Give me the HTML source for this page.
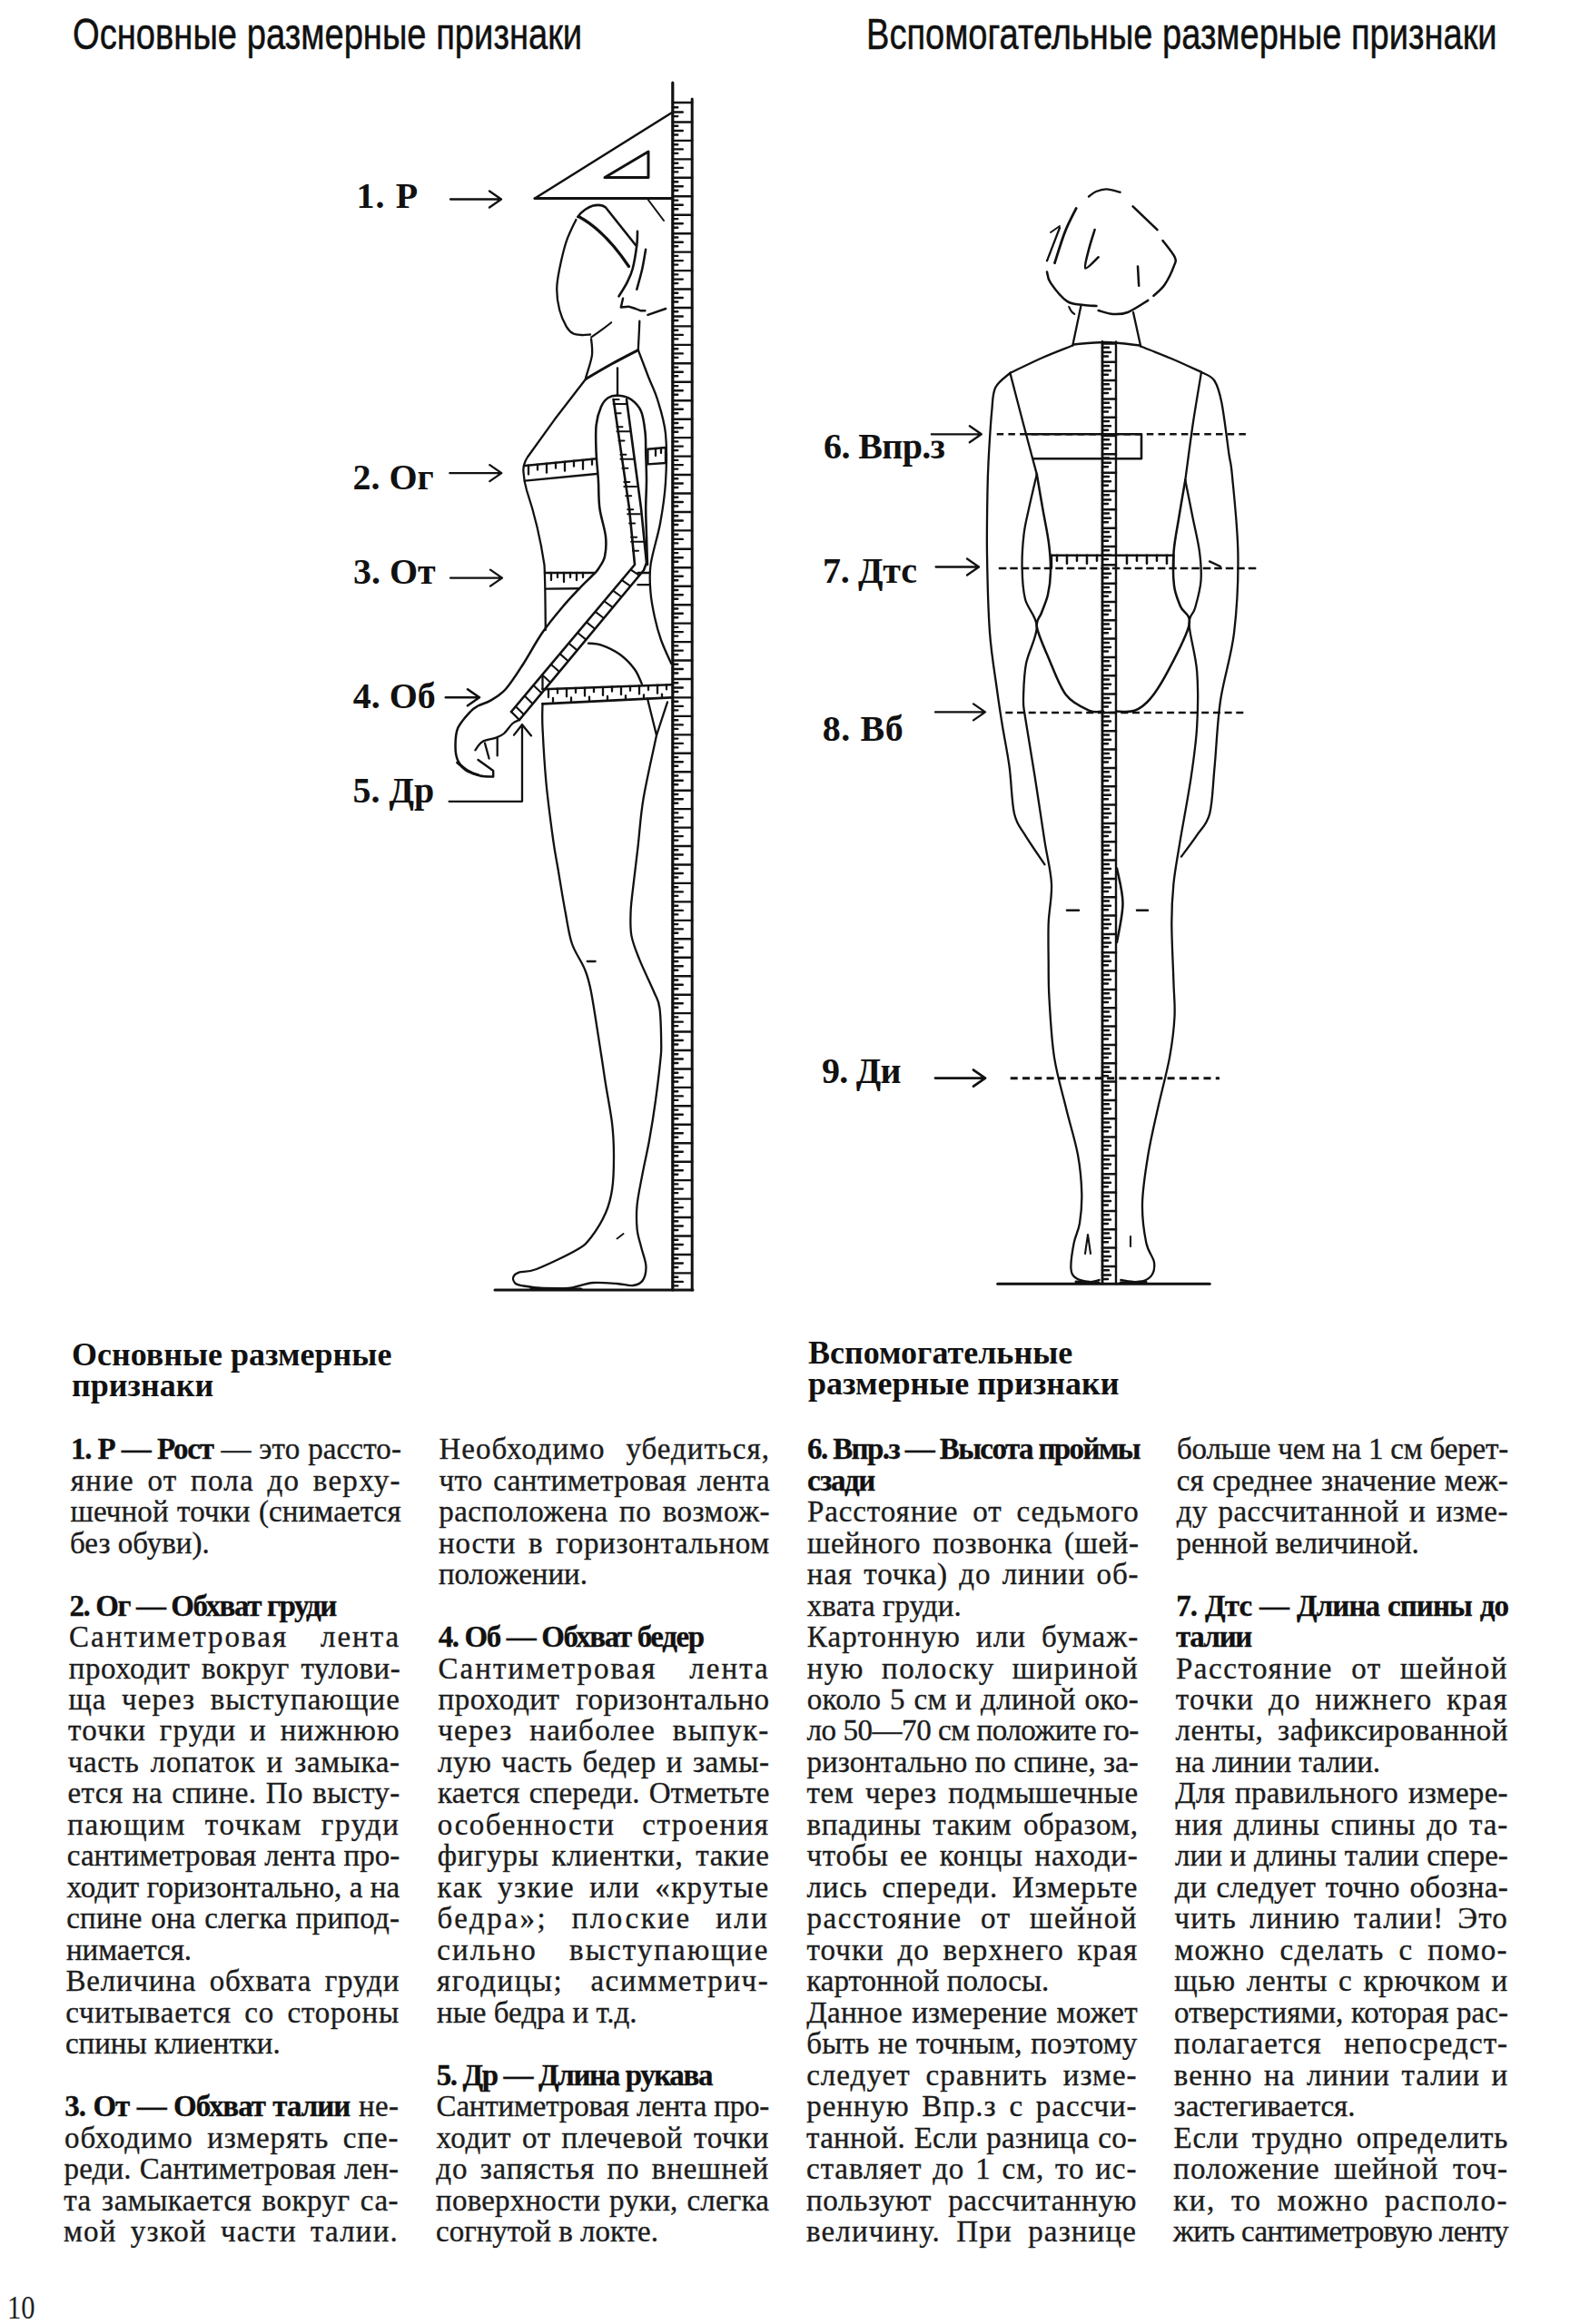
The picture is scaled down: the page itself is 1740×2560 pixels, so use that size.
<!DOCTYPE html>
<html><head><meta charset="utf-8">
<style>
html,body{margin:0;padding:0;background:#fff;}
body{width:1740px;height:2560px;position:relative;overflow:hidden;color:#1a1a1a;}
.h{position:absolute;font-family:"Liberation Sans",sans-serif;font-size:48px;line-height:48px;white-space:nowrap;transform-origin:0 0;color:#111;-webkit-text-stroke:0.5px #111;}
.sh{position:absolute;font-family:"Liberation Serif",serif;font-weight:bold;font-size:36px;line-height:34px;white-space:nowrap;letter-spacing:0px;color:#111;}
.ln{position:absolute;height:34.48px;white-space:nowrap;font-family:"Liberation Serif",serif;font-size:33px;line-height:34.48px;color:#1c1c1c;-webkit-text-stroke:0.35px #1c1c1c;}

.ln b{letter-spacing:calc(var(--ls,0px) - 1.4px);color:#111;}
.pn{position:absolute;left:8px;top:2524px;font-family:"Liberation Serif",serif;font-size:36px;line-height:36px;color:#222;transform:scaleX(0.85);transform-origin:0 0;}
svg{position:absolute;left:0;top:0;}
.lab{position:absolute;font-family:"Liberation Serif",serif;font-weight:bold;font-size:40px;line-height:40px;white-space:nowrap;color:#111;}
</style></head><body>
<div class="h" style="left:79.5px;top:13.9px;transform:scaleX(0.795)">Основные размерные признаки</div>
<div class="h" style="left:953.5px;top:13.9px;transform:scaleX(0.793)">Вспомогательные размерные признаки</div>
<div class="sh" style="left:79px;top:1475px">Основные размерные<br>признаки</div>
<div class="sh" style="left:890px;top:1473px">Вспомогательные<br>размерные признаки</div>
<div class="ln" style="left:78.0px;top:1579.1px;width:364.0px"><span style="word-spacing:0.38px;letter-spacing:0.14px;--ls:0.14px"><b>1. Р — Рост</b> — это рассто-</span></div>
<div class="ln" style="left:77.7px;top:1613.6px;width:364.2px"><span style="word-spacing:4.82px;letter-spacing:1.31px;--ls:1.31px">яние от пола до верху-</span></div>
<div class="ln" style="left:77.4px;top:1648.1px;width:364.4px"><span style="word-spacing:0.95px;letter-spacing:0.12px;--ls:0.12px">шечной точки (снимается</span></div>
<div class="ln" style="left:77.0px;top:1682.6px;width:364.6px"><span>без обуви).</span></div>
<div class="ln" style="left:76.4px;top:1751.5px;width:365.0px"><span><b>2. Ог — Обхват груди</b></span></div>
<div class="ln" style="left:76.1px;top:1786.0px;width:365.2px"><span style="word-spacing:25.59px;letter-spacing:2.02px;--ls:2.02px">Сантиметровая лента</span></div>
<div class="ln" style="left:75.8px;top:1820.5px;width:365.4px"><span style="word-spacing:3.83px;letter-spacing:0.50px;--ls:0.50px">проходит вокруг тулови-</span></div>
<div class="ln" style="left:75.4px;top:1855.0px;width:365.6px"><span style="word-spacing:7.13px;letter-spacing:1.07px;--ls:1.07px">ща через выступающие</span></div>
<div class="ln" style="left:75.1px;top:1889.4px;width:365.8px"><span style="word-spacing:5.32px;letter-spacing:1.20px;--ls:1.20px">точки груди и нижнюю</span></div>
<div class="ln" style="left:74.8px;top:1923.9px;width:366.0px"><span style="word-spacing:3.38px;letter-spacing:0.66px;--ls:0.66px">часть лопаток и замыка-</span></div>
<div class="ln" style="left:74.5px;top:1958.4px;width:366.2px"><span style="word-spacing:1.69px;letter-spacing:0.42px;--ls:0.42px">ется на спине. По высту-</span></div>
<div class="ln" style="left:74.2px;top:1992.9px;width:366.4px"><span style="word-spacing:10.64px;letter-spacing:1.68px;--ls:1.68px">пающим точкам груди</span></div>
<div class="ln" style="left:73.8px;top:2027.4px;width:366.6px"><span style="word-spacing:0.49px;letter-spacing:0.06px;--ls:0.06px">сантиметровая лента про-</span></div>
<div class="ln" style="left:73.5px;top:2061.8px;width:366.8px"><span style="word-spacing:0.18px;letter-spacing:0.03px;--ls:0.03px">ходит горизонтально, а на</span></div>
<div class="ln" style="left:73.2px;top:2096.3px;width:367.0px"><span style="word-spacing:1.18px;letter-spacing:0.22px;--ls:0.22px">спине она слегка припод-</span></div>
<div class="ln" style="left:72.9px;top:2130.8px;width:367.2px"><span>нимается.</span></div>
<div class="ln" style="left:72.6px;top:2165.3px;width:367.4px"><span style="word-spacing:5.63px;letter-spacing:0.77px;--ls:0.77px">Величина обхвата груди</span></div>
<div class="ln" style="left:72.2px;top:2199.8px;width:367.6px"><span style="word-spacing:5.61px;letter-spacing:0.77px;--ls:0.77px">считывается со стороны</span></div>
<div class="ln" style="left:71.9px;top:2234.2px;width:367.8px"><span>спины клиентки.</span></div>
<div class="ln" style="left:71.3px;top:2303.2px;width:368.2px"><span style="word-spacing:1.20px;letter-spacing:0.37px;--ls:0.37px"><b>3. От — Обхват талии</b> не-</span></div>
<div class="ln" style="left:71.0px;top:2337.7px;width:368.4px"><span style="word-spacing:6.48px;letter-spacing:0.88px;--ls:0.88px">обходимо измерять спе-</span></div>
<div class="ln" style="left:70.6px;top:2372.2px;width:368.6px"><span style="word-spacing:0.84px;letter-spacing:0.10px;--ls:0.10px">реди. Сантиметровая лен-</span></div>
<div class="ln" style="left:70.3px;top:2406.6px;width:368.8px"><span style="word-spacing:2.62px;letter-spacing:0.49px;--ls:0.49px">та замыкается вокруг са-</span></div>
<div class="ln" style="left:70.0px;top:2441.1px;width:369.0px"><span style="word-spacing:5.78px;letter-spacing:1.18px;--ls:1.18px">мой узкой части талии.</span></div>
<div class="ln" style="left:483.5px;top:1579.1px;width:364.5px"><span style="word-spacing:13.79px;letter-spacing:0.98px;--ls:0.98px">Необходимо убедиться,</span></div>
<div class="ln" style="left:483.4px;top:1613.6px;width:364.6px"><span style="word-spacing:3.00px;letter-spacing:0.39px;--ls:0.39px">что сантиметровая лента</span></div>
<div class="ln" style="left:483.2px;top:1648.1px;width:364.7px"><span style="word-spacing:3.66px;letter-spacing:0.50px;--ls:0.50px">расположена по возмож-</span></div>
<div class="ln" style="left:483.1px;top:1682.6px;width:364.8px"><span style="word-spacing:4.99px;letter-spacing:0.68px;--ls:0.68px">ности в горизонтальном</span></div>
<div class="ln" style="left:482.9px;top:1717.0px;width:364.9px"><span>положении.</span></div>
<div class="ln" style="left:482.7px;top:1786.0px;width:365.1px"><span><b>4. Об — Обхват бедер</b></span></div>
<div class="ln" style="left:482.5px;top:1820.5px;width:365.2px"><span style="word-spacing:25.59px;letter-spacing:2.02px;--ls:2.02px">Сантиметровая лента</span></div>
<div class="ln" style="left:482.4px;top:1855.0px;width:365.3px"><span style="word-spacing:8.69px;letter-spacing:0.59px;--ls:0.59px">проходит горизонтально</span></div>
<div class="ln" style="left:482.2px;top:1889.4px;width:365.4px"><span style="word-spacing:9.11px;letter-spacing:1.30px;--ls:1.30px">через наиболее выпук-</span></div>
<div class="ln" style="left:482.1px;top:1923.9px;width:365.5px"><span style="word-spacing:2.16px;letter-spacing:0.56px;--ls:0.56px">лую часть бедер и замы-</span></div>
<div class="ln" style="left:482.0px;top:1958.4px;width:365.6px"><span style="word-spacing:1.64px;letter-spacing:0.20px;--ls:0.20px">кается спереди. Отметьте</span></div>
<div class="ln" style="left:481.8px;top:1992.9px;width:365.7px"><span style="word-spacing:20.23px;letter-spacing:1.52px;--ls:1.52px">особенности строения</span></div>
<div class="ln" style="left:481.7px;top:2027.4px;width:365.8px"><span style="word-spacing:4.98px;letter-spacing:0.68px;--ls:0.68px">фигуры клиентки, такие</span></div>
<div class="ln" style="left:481.5px;top:2061.8px;width:365.9px"><span style="word-spacing:6.52px;letter-spacing:1.40px;--ls:1.40px">как узкие или «крутые</span></div>
<div class="ln" style="left:481.4px;top:2096.3px;width:366.0px"><span style="word-spacing:15.82px;letter-spacing:2.50px;--ls:2.50px">бедра»; плоские или</span></div>
<div class="ln" style="left:481.3px;top:2130.8px;width:366.1px"><span style="word-spacing:24.92px;letter-spacing:2.08px;--ls:2.08px">сильно выступающие</span></div>
<div class="ln" style="left:481.1px;top:2165.3px;width:366.2px"><span style="word-spacing:20.44px;letter-spacing:1.53px;--ls:1.53px">ягодицы; асимметрич-</span></div>
<div class="ln" style="left:481.0px;top:2199.8px;width:366.3px"><span>ные бедра и т.д.</span></div>
<div class="ln" style="left:480.7px;top:2268.7px;width:366.5px"><span><b>5. Др — Длина рукава</b></span></div>
<div class="ln" style="left:480.6px;top:2303.2px;width:366.6px"><span style="word-spacing:0.00px;letter-spacing:-0.19px;--ls:-0.19px">Сантиметровая лента про-</span></div>
<div class="ln" style="left:480.4px;top:2337.7px;width:366.7px"><span style="word-spacing:3.09px;letter-spacing:0.60px;--ls:0.60px">ходит от плечевой точки</span></div>
<div class="ln" style="left:480.3px;top:2372.2px;width:366.8px"><span style="word-spacing:4.26px;letter-spacing:0.87px;--ls:0.87px">до запястья по внешней</span></div>
<div class="ln" style="left:480.1px;top:2406.6px;width:366.9px"><span style="word-spacing:1.50px;letter-spacing:0.19px;--ls:0.19px">поверхности руки, слегка</span></div>
<div class="ln" style="left:480.0px;top:2441.1px;width:367.0px"><span>согнутой в локте.</span></div>
<div class="ln" style="left:889.0px;top:1579.1px;width:366.0px"><span style="word-spacing:0.00px;letter-spacing:-0.20px;--ls:-0.20px"><b>6. Впр.з — Высота проймы</b></span></div>
<div class="ln" style="left:889.0px;top:1613.6px;width:365.9px"><span><b>сзади</b></span></div>
<div class="ln" style="left:888.9px;top:1648.1px;width:365.8px"><span style="word-spacing:6.77px;letter-spacing:0.92px;--ls:0.92px">Расстояние от седьмого</span></div>
<div class="ln" style="left:888.9px;top:1682.6px;width:365.8px"><span style="word-spacing:4.31px;letter-spacing:0.59px;--ls:0.59px">шейного позвонка (шей-</span></div>
<div class="ln" style="left:888.8px;top:1717.0px;width:365.7px"><span style="word-spacing:3.31px;letter-spacing:0.86px;--ls:0.86px">ная точка) до линии об-</span></div>
<div class="ln" style="left:888.8px;top:1751.5px;width:365.6px"><span>хвата груди.</span></div>
<div class="ln" style="left:888.8px;top:1786.0px;width:365.5px"><span style="word-spacing:7.46px;letter-spacing:1.12px;--ls:1.12px">Картонную или бумаж-</span></div>
<div class="ln" style="left:888.7px;top:1820.5px;width:365.4px"><span style="word-spacing:9.37px;letter-spacing:1.48px;--ls:1.48px">ную полоску шириной</span></div>
<div class="ln" style="left:888.7px;top:1855.0px;width:365.4px"><span style="word-spacing:1.08px;letter-spacing:0.34px;--ls:0.34px">около 5 см и длиной око-</span></div>
<div class="ln" style="left:888.6px;top:1889.4px;width:365.3px"><span style="word-spacing:0.00px;letter-spacing:-0.45px;--ls:-0.45px">ло 50—70 см положите го-</span></div>
<div class="ln" style="left:888.6px;top:1923.9px;width:365.2px"><span style="word-spacing:0.06px;letter-spacing:0.01px;--ls:0.01px">ризонтально по спине, за-</span></div>
<div class="ln" style="left:888.6px;top:1958.4px;width:365.1px"><span style="word-spacing:3.89px;letter-spacing:0.56px;--ls:0.56px">тем через подмышечные</span></div>
<div class="ln" style="left:888.5px;top:1992.9px;width:365.0px"><span style="word-spacing:4.00px;letter-spacing:0.55px;--ls:0.55px">впадины таким образом,</span></div>
<div class="ln" style="left:888.5px;top:2027.4px;width:365.0px"><span style="word-spacing:3.73px;letter-spacing:0.76px;--ls:0.76px">чтобы ее концы находи-</span></div>
<div class="ln" style="left:888.4px;top:2061.8px;width:364.9px"><span style="word-spacing:6.58px;letter-spacing:0.90px;--ls:0.90px">лись спереди. Измерьте</span></div>
<div class="ln" style="left:888.4px;top:2096.3px;width:364.8px"><span style="word-spacing:10.56px;letter-spacing:1.58px;--ls:1.58px">расстояние от шейной</span></div>
<div class="ln" style="left:888.4px;top:2130.8px;width:364.7px"><span style="word-spacing:5.31px;letter-spacing:1.09px;--ls:1.09px">точки до верхнего края</span></div>
<div class="ln" style="left:888.3px;top:2165.3px;width:364.6px"><span>картонной полосы.</span></div>
<div class="ln" style="left:888.3px;top:2199.8px;width:364.6px"><span style="word-spacing:1.83px;letter-spacing:0.25px;--ls:0.25px">Данное измерение может</span></div>
<div class="ln" style="left:888.2px;top:2234.2px;width:364.5px"><span style="word-spacing:1.04px;letter-spacing:0.20px;--ls:0.20px">быть не точным, поэтому</span></div>
<div class="ln" style="left:888.2px;top:2268.7px;width:364.4px"><span style="word-spacing:7.55px;letter-spacing:1.03px;--ls:1.03px">следует сравнить изме-</span></div>
<div class="ln" style="left:888.2px;top:2303.2px;width:364.3px"><span style="word-spacing:4.64px;letter-spacing:0.95px;--ls:0.95px">ренную Впр.з с рассчи-</span></div>
<div class="ln" style="left:888.1px;top:2337.7px;width:364.2px"><span style="word-spacing:1.25px;letter-spacing:0.23px;--ls:0.23px">танной. Если разница со-</span></div>
<div class="ln" style="left:888.1px;top:2372.2px;width:364.2px"><span style="word-spacing:2.85px;letter-spacing:0.89px;--ls:0.89px">ставляет до 1 см, то ис-</span></div>
<div class="ln" style="left:888.0px;top:2406.6px;width:364.1px"><span style="word-spacing:9.24px;letter-spacing:0.66px;--ls:0.66px">пользуют рассчитанную</span></div>
<div class="ln" style="left:888.0px;top:2441.1px;width:364.0px"><span style="word-spacing:8.03px;letter-spacing:1.15px;--ls:1.15px">величину. При разнице</span></div>
<div class="ln" style="left:1296.0px;top:1579.1px;width:365.0px"><span style="word-spacing:0.00px;letter-spacing:-0.19px;--ls:-0.19px">больше чем на 1 см берет-</span></div>
<div class="ln" style="left:1295.8px;top:1613.6px;width:365.2px"><span style="word-spacing:0.92px;letter-spacing:0.17px;--ls:0.17px">ся среднее значение меж-</span></div>
<div class="ln" style="left:1295.7px;top:1648.1px;width:365.3px"><span style="word-spacing:2.65px;letter-spacing:0.52px;--ls:0.52px">ду рассчитанной и изме-</span></div>
<div class="ln" style="left:1295.5px;top:1682.6px;width:365.5px"><span>ренной величиной.</span></div>
<div class="ln" style="left:1295.2px;top:1751.5px;width:365.8px"><span style="word-spacing:1.49px;letter-spacing:0.49px;--ls:0.49px"><b>7. Дтс — Длина спины до</b></span></div>
<div class="ln" style="left:1295.0px;top:1786.0px;width:366.0px"><span><b>талии</b></span></div>
<div class="ln" style="left:1294.9px;top:1820.5px;width:366.1px"><span style="word-spacing:10.46px;letter-spacing:1.57px;--ls:1.57px">Расстояние от шейной</span></div>
<div class="ln" style="left:1294.7px;top:1855.0px;width:366.3px"><span style="word-spacing:6.17px;letter-spacing:1.32px;--ls:1.32px">точки до нижнего края</span></div>
<div class="ln" style="left:1294.6px;top:1889.4px;width:366.4px"><span style="word-spacing:7.22px;letter-spacing:0.49px;--ls:0.49px">ленты, зафиксированной</span></div>
<div class="ln" style="left:1294.4px;top:1923.9px;width:366.6px"><span>на линии талии.</span></div>
<div class="ln" style="left:1294.2px;top:1958.4px;width:366.8px"><span style="word-spacing:2.25px;letter-spacing:0.29px;--ls:0.29px">Для правильного измере-</span></div>
<div class="ln" style="left:1294.1px;top:1992.9px;width:366.9px"><span style="word-spacing:2.91px;letter-spacing:0.79px;--ls:0.79px">ния длины спины до та-</span></div>
<div class="ln" style="left:1293.9px;top:2027.4px;width:367.1px"><span style="word-spacing:0.32px;letter-spacing:0.08px;--ls:0.08px">лии и длины талии спере-</span></div>
<div class="ln" style="left:1293.8px;top:2061.8px;width:367.2px"><span style="word-spacing:1.90px;letter-spacing:0.36px;--ls:0.36px">ди следует точно обозна-</span></div>
<div class="ln" style="left:1293.6px;top:2096.3px;width:367.4px"><span style="word-spacing:5.33px;letter-spacing:1.14px;--ls:1.14px">чить линию талии! Это</span></div>
<div class="ln" style="left:1293.4px;top:2130.8px;width:367.6px"><span style="word-spacing:6.26px;letter-spacing:1.34px;--ls:1.34px">можно сделать с помо-</span></div>
<div class="ln" style="left:1293.3px;top:2165.3px;width:367.7px"><span style="word-spacing:2.83px;letter-spacing:0.81px;--ls:0.81px">щью ленты с крючком и</span></div>
<div class="ln" style="left:1293.1px;top:2199.8px;width:367.9px"><span style="word-spacing:0.33px;letter-spacing:0.04px;--ls:0.04px">отверстиями, которая рас-</span></div>
<div class="ln" style="left:1293.0px;top:2234.2px;width:368.0px"><span style="word-spacing:15.18px;letter-spacing:1.04px;--ls:1.04px">полагается непосредст-</span></div>
<div class="ln" style="left:1292.8px;top:2268.7px;width:368.2px"><span style="word-spacing:3.47px;letter-spacing:0.95px;--ls:0.95px">венно на линии талии и</span></div>
<div class="ln" style="left:1292.6px;top:2303.2px;width:368.4px"><span>застегивается.</span></div>
<div class="ln" style="left:1292.5px;top:2337.7px;width:368.5px"><span style="word-spacing:5.38px;letter-spacing:0.73px;--ls:0.73px">Если трудно определить</span></div>
<div class="ln" style="left:1292.3px;top:2372.2px;width:368.7px"><span style="word-spacing:6.51px;letter-spacing:0.93px;--ls:0.93px">положение шейной точ-</span></div>
<div class="ln" style="left:1292.2px;top:2406.6px;width:368.8px"><span style="word-spacing:7.29px;letter-spacing:1.56px;--ls:1.56px">ки, то можно располо-</span></div>
<div class="ln" style="left:1292.0px;top:2441.1px;width:369.0px"><span style="word-spacing:0.00px;letter-spacing:-0.63px;--ls:-0.63px">жить сантиметровую ленту</span></div>
<div class="lab" style="left:392.5px;top:196.1px;letter-spacing:1.1px">1. Р</div><div class="lab" style="left:388.5px;top:506.1px;letter-spacing:0px">2. Ог</div><div class="lab" style="left:389px;top:609.5px;letter-spacing:0px">3. От</div><div class="lab" style="left:388.7px;top:746.7px;letter-spacing:0px">4. Об</div><div class="lab" style="left:388.5px;top:850.8px;letter-spacing:0px">5. Др</div><div class="lab" style="left:907px;top:471.5px;letter-spacing:-0.6px">6. Впр.з</div><div class="lab" style="left:906px;top:608.7px;letter-spacing:-0.3px">7. Дтс</div><div class="lab" style="left:905.7px;top:782.5px;letter-spacing:0.6px">8. Вб</div><div class="lab" style="left:905px;top:1160.0px;letter-spacing:-0.75px">9. Ди</div>
<div class="pn">10</div>
<svg width="1740" height="2560" viewBox="0 0 1740 2560" fill="none" stroke="#111" stroke-linecap="round" stroke-linejoin="round">
<path d="M740.8,91.0 L740.8,1421.0" stroke-width="3.20"/>
<path d="M762.2,109.0 L762.2,1421.0" stroke-width="3.00"/>
<path d="M740.8,113 H762.2 M740.8,134.5 H762.2 M740.8,154.9 H762.2 M740.8,175.4 H762.2 M740.8,195.8 H762.2 M740.8,216.3 H762.2 M740.8,236.8 H762.2 M740.8,257.2 H762.2 M740.8,277.6 H762.2 M740.8,298.1 H762.2 M740.8,318.5 H762.2 M740.8,339.0 H762.2 M740.8,359.4 H762.2 M740.8,379.9 H762.2 M740.8,400.3 H762.2 M740.8,420.8 H762.2 M740.8,441.2 H762.2 M740.8,461.7 H762.2 M740.8,482.1 H762.2 M740.8,502.6 H762.2 M740.8,523.0 H762.2 M740.8,543.5 H762.2 M740.8,564.0 H762.2 M740.8,584.4 H762.2 M740.8,604.8 H762.2 M740.8,625.3 H762.2 M740.8,645.8 H762.2 M740.8,666.2 H762.2 M740.8,686.6 H762.2 M740.8,707.1 H762.2 M740.8,727.5 H762.2 M740.8,748.0 H762.2 M740.8,768.4 H762.2 M740.8,788.9 H762.2 M740.8,809.4 H762.2 M740.8,829.8 H762.2 M740.8,850.2 H762.2 M740.8,870.7 H762.2 M740.8,891.1 H762.2 M740.8,911.6 H762.2 M740.8,932.0 H762.2 M740.8,952.5 H762.2 M740.8,972.9 H762.2 M740.8,993.4 H762.2 M740.8,1013.9 H762.2 M740.8,1034.3 H762.2 M740.8,1054.8 H762.2 M740.8,1075.2 H762.2 M740.8,1095.7 H762.2 M740.8,1116.1 H762.2 M740.8,1136.5 H762.2 M740.8,1157.0 H762.2 M740.8,1177.5 H762.2 M740.8,1197.9 H762.2 M740.8,1218.3 H762.2 M740.8,1238.8 H762.2 M740.8,1259.2 H762.2 M740.8,1279.7 H762.2 M740.8,1300.1 H762.2 M740.8,1320.6 H762.2 M740.8,1341.0 H762.2 M740.8,1361.5 H762.2 M740.8,1382.0 H762.2 M740.8,1402.4 H762.2 M740.8,118.3 h5.5 M740.8,123.5 h11 M740.8,128.1 h5.5 M740.8,138.8 h5.5 M740.8,144.0 h11 M740.8,148.5 h5.5 M740.8,159.2 h5.5 M740.8,164.4 h11 M740.8,168.9 h5.5 M740.8,179.7 h5.5 M740.8,184.9 h11 M740.8,189.4 h5.5 M740.8,200.2 h5.5 M740.8,205.3 h11 M740.8,209.8 h5.5 M740.8,220.6 h5.5 M740.8,225.8 h11 M740.8,230.3 h5.5 M740.8,241.1 h5.5 M740.8,246.2 h11 M740.8,250.8 h5.5 M740.8,261.5 h5.5 M740.8,266.7 h11 M740.8,271.2 h5.5 M740.8,281.9 h5.5 M740.8,287.1 h11 M740.8,291.6 h5.5 M740.8,302.4 h5.5 M740.8,307.6 h11 M740.8,312.1 h5.5 M740.8,322.8 h5.5 M740.8,328.0 h11 M740.8,332.5 h5.5 M740.8,343.3 h5.5 M740.8,348.5 h11 M740.8,353.0 h5.5 M740.8,363.8 h5.5 M740.8,368.9 h11 M740.8,373.4 h5.5 M740.8,384.2 h5.5 M740.8,389.4 h11 M740.8,393.9 h5.5 M740.8,404.6 h5.5 M740.8,409.8 h11 M740.8,414.3 h5.5 M740.8,425.1 h5.5 M740.8,430.3 h11 M740.8,434.8 h5.5 M740.8,445.6 h5.5 M740.8,450.8 h11 M740.8,455.2 h5.5 M740.8,466.0 h5.5 M740.8,471.2 h11 M740.8,475.7 h5.5 M740.8,486.4 h5.5 M740.8,491.6 h11 M740.8,496.1 h5.5 M740.8,506.9 h5.5 M740.8,512.1 h11 M740.8,516.6 h5.5 M740.8,527.3 h5.5 M740.8,532.5 h11 M740.8,537.0 h5.5 M740.8,547.8 h5.5 M740.8,553.0 h11 M740.8,557.5 h5.5 M740.8,568.2 h5.5 M740.8,573.5 h11 M740.8,578.0 h5.5 M740.8,588.7 h5.5 M740.8,593.9 h11 M740.8,598.4 h5.5 M740.8,609.1 h5.5 M740.8,614.3 h11 M740.8,618.8 h5.5 M740.8,629.6 h5.5 M740.8,634.8 h11 M740.8,639.3 h5.5 M740.8,650.0 h5.5 M740.8,655.2 h11 M740.8,659.8 h5.5 M740.8,670.5 h5.5 M740.8,675.7 h11 M740.8,680.2 h5.5 M740.8,690.9 h5.5 M740.8,696.1 h11 M740.8,700.6 h5.5 M740.8,711.4 h5.5 M740.8,716.6 h11 M740.8,721.1 h5.5 M740.8,731.8 h5.5 M740.8,737.0 h11 M740.8,741.5 h5.5 M740.8,752.3 h5.5 M740.8,757.5 h11 M740.8,762.0 h5.5 M740.8,772.7 h5.5 M740.8,777.9 h11 M740.8,782.4 h5.5 M740.8,793.2 h5.5 M740.8,798.4 h11 M740.8,802.9 h5.5 M740.8,813.6 h5.5 M740.8,818.9 h11 M740.8,823.4 h5.5 M740.8,834.1 h5.5 M740.8,839.3 h11 M740.8,843.8 h5.5 M740.8,854.5 h5.5 M740.8,859.8 h11 M740.8,864.2 h5.5 M740.8,875.0 h5.5 M740.8,880.2 h11 M740.8,884.7 h5.5 M740.8,895.4 h5.5 M740.8,900.6 h11 M740.8,905.1 h5.5 M740.8,915.9 h5.5 M740.8,921.1 h11 M740.8,925.6 h5.5 M740.8,936.3 h5.5 M740.8,941.5 h11 M740.8,946.0 h5.5 M740.8,956.8 h5.5 M740.8,962.0 h11 M740.8,966.5 h5.5 M740.8,977.2 h5.5 M740.8,982.4 h11 M740.8,986.9 h5.5 M740.8,997.7 h5.5 M740.8,1002.9 h11 M740.8,1007.4 h5.5 M740.8,1018.1 h5.5 M740.8,1023.4 h11 M740.8,1027.8 h5.5 M740.8,1038.6 h5.5 M740.8,1043.8 h11 M740.8,1048.3 h5.5 M740.8,1059.0 h5.5 M740.8,1064.2 h11 M740.8,1068.8 h5.5 M740.8,1079.5 h5.5 M740.8,1084.7 h11 M740.8,1089.2 h5.5 M740.8,1100.0 h5.5 M740.8,1105.2 h11 M740.8,1109.7 h5.5 M740.8,1120.4 h5.5 M740.8,1125.6 h11 M740.8,1130.1 h5.5 M740.8,1140.8 h5.5 M740.8,1146.0 h11 M740.8,1150.5 h5.5 M740.8,1161.3 h5.5 M740.8,1166.5 h11 M740.8,1171.0 h5.5 M740.8,1181.8 h5.5 M740.8,1187.0 h11 M740.8,1191.5 h5.5 M740.8,1202.2 h5.5 M740.8,1207.4 h11 M740.8,1211.9 h5.5 M740.8,1222.6 h5.5 M740.8,1227.8 h11 M740.8,1232.3 h5.5 M740.8,1243.1 h5.5 M740.8,1248.3 h11 M740.8,1252.8 h5.5 M740.8,1263.5 h5.5 M740.8,1268.8 h11 M740.8,1273.2 h5.5 M740.8,1284.0 h5.5 M740.8,1289.2 h11 M740.8,1293.7 h5.5 M740.8,1304.4 h5.5 M740.8,1309.6 h11 M740.8,1314.1 h5.5 M740.8,1324.9 h5.5 M740.8,1330.1 h11 M740.8,1334.6 h5.5 M740.8,1345.3 h5.5 M740.8,1350.5 h11 M740.8,1355.0 h5.5 M740.8,1365.8 h5.5 M740.8,1371.0 h11 M740.8,1375.5 h5.5 M740.8,1386.2 h5.5 M740.8,1391.5 h11 M740.8,1396.0 h5.5 M740.8,1406.7 h5.5 M740.8,1411.9 h11 M740.8,1416.4 h5.5" stroke-width="2.40"/>
<path d="M545.0,1421.0 L763.0,1421.0" stroke-width="3.00"/>
<path d="M589.0,218.5 L740.0,124.0" stroke-width="2.60"/>
<path d="M589.0,218.5 L740.0,218.5" stroke-width="3.00"/>
<path d="M666.0,195.5 L714.0,167.0 L714.0,195.5 L666.0,195.5" stroke-width="3.00"/>
<path d="M713.0,219.0 L731.0,243.0" stroke-width="2.07"/>
<path d="M636.3,239 C640,233 648,228 653.2,226.5 C658,225.5 664,226 667,228.5 L700,270" stroke-width="2.53"/>
<path d="M637.2,238.5 Q666,254 692.5,293.5" stroke-width="3.20"/>
<path d="M702.0,254.9 C701.9,257.4 702.2,263.2 701.3,270.1 C700.4,277.0 698.5,289.2 696.7,296.0 C694.9,302.8 693.1,306.1 690.6,311.1 C688.1,316.2 683.0,323.8 681.5,326.3" stroke-width="2.60"/>
<path d="M711.1,274.7 C710.5,278.2 708.9,288.7 707.3,296.0 C705.7,303.3 702.3,314.9 701.3,318.7" stroke-width="2.53"/>
<path d="M634.4,242.0 C632.6,245.9 626.8,256.6 623.8,265.6 C620.8,274.6 618.0,287.1 616.2,296.0 C614.4,304.9 613.2,311.1 613.2,318.7 C613.2,326.3 614.4,334.6 616.2,341.5 C618.0,348.4 621.3,355.5 623.8,359.8 C626.3,364.1 628.6,366.0 631.4,367.5 C634.2,369.0 637.4,368.8 640.5,369.0 C643.6,369.2 648.4,368.6 650.0,368.5" stroke-width="2.30"/>
<path d="M651.1,371.4 C653.1,370.0 659.6,365.5 663.3,362.8 C667.0,360.1 671.6,356.5 673.2,355.2" stroke-width="2.07"/>
<path d="M686.1,328.6 L683.8,338.5 L692.2,337.7 L699.8,340.0 L705.8,342.3 L710.4,342.3" stroke-width="2.40"/>
<path d="M713.4,346.8 L733.2,340.0" stroke-width="2.40"/>
<path d="M704.3,353.7 C704.2,356.7 703.8,366.6 703.5,371.9 C703.2,377.2 702.9,383.3 702.8,385.6" stroke-width="2.30"/>
<path d="M651.1,373.4 C651.2,376.4 652.9,384.5 651.9,391.6 C650.9,398.7 646.2,411.9 645.1,416.0" stroke-width="2.30"/>
<path d="M645.1,417.5 C649.9,414.7 664.3,406.1 673.9,400.8 C683.5,395.5 698.0,388.1 702.8,385.6" stroke-width="3.00"/>
<path d="M645.1,417.5 L610.6,462.3 L581,503.5 Q575.5,512 576.5,520 Q577,530 580,540 C585,555 594,585 599.5,622.3 C600.5,640 600.6,670 600.8,694" stroke-width="2.30"/>
<path d="M597.5,775.0 C597.5,779.5 596.8,787.2 597.5,801.8 C598.2,816.4 599.6,842.1 601.5,862.5 C603.4,882.9 606.8,907.8 609.0,924.0 C611.2,940.2 612.8,946.7 615.0,960.0 C617.2,973.3 620.0,990.8 622.5,1004.0 C625.0,1017.2 626.3,1028.9 629.9,1039.5 C633.5,1050.1 640.5,1058.9 644.0,1067.8 C647.5,1076.7 648.0,1077.3 651.0,1092.7 C654.0,1108.1 659.1,1143.1 661.8,1160.0 C664.5,1176.9 664.9,1181.2 667.0,1194.3 C669.1,1207.4 672.7,1225.3 674.2,1238.6 C675.7,1251.9 676.0,1262.2 676.0,1274.0 C676.0,1285.8 675.7,1299.2 674.2,1309.5 C672.7,1319.8 670.9,1327.1 667.0,1336.0 C663.1,1344.9 656.4,1355.9 651.1,1362.7 C645.8,1369.5 645.2,1370.9 635.2,1376.8 C625.2,1382.7 601.5,1393.9 590.9,1398.0 C580.3,1402.1 575.7,1400.1 571.4,1401.6 C567.1,1403.1 565.8,1404.9 565.2,1407.0 C564.6,1409.1 565.9,1412.4 567.8,1414.0 C569.7,1415.6 571.4,1415.6 576.7,1416.5 C582.0,1417.4 591.5,1419.0 599.7,1419.4 C607.9,1419.8 617.1,1420.1 626.0,1419.0 C634.9,1417.9 644.1,1413.8 653.0,1413.0 C661.9,1412.2 672.1,1413.5 679.5,1414.0 C686.9,1414.5 692.5,1416.6 697.2,1416.0 C701.9,1415.4 705.4,1414.1 707.8,1410.5 C710.2,1406.9 711.7,1400.7 711.4,1394.5 C711.1,1388.3 707.6,1380.1 706.0,1373.3 C704.4,1366.5 702.3,1361.5 701.6,1353.8 C700.9,1346.1 700.6,1337.5 701.6,1327.2 C702.6,1316.9 705.6,1303.6 707.8,1291.8 C710.0,1280.0 712.6,1269.6 715.0,1256.3 C717.4,1243.0 720.0,1226.8 722.0,1212.0 C724.0,1197.2 726.3,1178.0 727.3,1167.7 C728.3,1157.4 728.4,1159.5 728.2,1150.0 C728.1,1140.5 727.7,1120.0 726.4,1110.4 C725.1,1100.9 723.9,1101.6 720.2,1092.7 C716.5,1083.8 708.4,1067.6 704.3,1057.2 C700.2,1046.8 697.0,1039.5 695.4,1030.6 C693.8,1021.7 694.3,1012.9 694.6,1004.0 C694.9,995.1 695.9,989.3 697.2,977.5 C698.5,965.7 700.6,949.2 702.5,933.0 C704.4,916.8 705.1,900.5 708.5,880.0 C711.9,859.5 720.6,821.7 723.0,810.0" stroke-width="2.30"/>
<path d="M597.5,745.0 L597.5,759.0" stroke-width="2.30"/>
<path d="M585.0,1419.0 L640.0,1420.0" stroke-width="3.00"/>
<path d="M646.7,1059.0 L655.6,1059.0" stroke-width="2.30"/>
<path d="M679.5,1364.4 L686.6,1359.0" stroke-width="1.84"/>
<path d="M702.8,385.6 C704.7,390.5 710.5,405.9 714.0,415.0 C717.5,424.1 720.8,429.5 724.0,440.0 C727.2,450.5 731.5,462.8 733.0,478.0 C734.5,493.2 734.0,514.5 733.0,531.0 C732.0,547.5 729.8,561.5 727.0,576.7 C724.2,591.9 718.2,609.6 716.5,622.3 C714.8,635.0 715.8,643.1 716.5,652.7 C717.2,662.3 719.1,671.3 721.0,680.0 C722.9,688.7 725.0,696.5 728.0,705.0 C731.0,713.5 737.3,726.7 739.2,731.0" stroke-width="2.30"/>
<path d="M648.0,708.6 C650.4,708.9 656.5,708.6 662.3,710.6 C668.0,712.6 676.4,716.4 682.5,720.8 C688.6,725.2 694.7,731.6 698.7,737.0 C702.8,742.4 705.4,750.5 706.8,753.2" stroke-width="2.40"/>
<path d="M713.0,769.4 L723.0,810.0 L735.0,773.4" stroke-width="2.30"/>
<path d="M713.0,622.0 C712.8,616.7 712.3,600.3 712.0,590.0 C711.7,579.7 711.2,570.2 711.2,560.0 C711.2,549.8 712.0,539.2 712.0,529.0 C712.0,518.8 711.5,507.5 711.2,498.7 C711.0,489.9 711.4,483.6 710.5,476.0 C709.6,468.4 708.6,459.0 706.0,453.0 C703.4,447.0 699.1,442.9 695.0,440.0 C690.9,437.1 685.8,436.0 681.6,435.7 C677.4,435.4 673.3,435.9 670.0,438.0 C666.7,440.1 664.2,442.9 662.0,448.0 C659.8,453.1 657.5,459.9 656.6,468.3 C655.7,476.8 656.2,488.6 656.6,498.7 C657.0,508.8 658.3,518.8 658.9,529.0 C659.5,539.2 659.0,549.7 660.4,560.0 C661.8,570.3 666.1,582.2 667.0,591.0 C667.9,599.8 667.3,607.1 666.0,613.0 C664.7,618.9 661.0,623.2 659.0,626.5 C657.0,629.8 657.2,629.0 653.7,632.7 C650.2,636.4 643.3,642.7 637.7,648.6 C632.1,654.5 626.7,660.0 620.0,668.0 C613.3,676.0 605.0,685.7 597.5,696.5 C590.0,707.3 582.0,722.6 575.2,733.0 C568.5,743.4 562.7,752.6 557.0,759.0 C551.3,765.4 545.9,768.3 540.8,771.4 C535.7,774.5 530.3,775.5 526.6,777.5 C522.9,779.5 522.2,779.5 518.5,783.5 C514.8,787.5 507.1,795.4 504.3,801.8 C501.5,808.2 501.5,816.0 501.5,822.0 C501.5,828.0 502.2,833.6 504.3,838.0 C506.4,842.4 510.3,845.7 514.4,848.4 C518.4,851.1 523.8,853.2 528.6,854.4 C533.4,855.6 540.6,855.3 543.0,855.5" stroke-width="2.53"/>
<path d="M680.0,405.3 L680.0,435.7" stroke-width="2.30"/>
<path d="M572.0,793.0 C570.7,793.7 567.2,794.5 564.4,797.0 C561.6,799.5 558.0,805.4 555.0,808.0 C552.0,810.6 550.2,811.2 546.2,812.7 C542.2,814.2 534.8,814.9 531.0,817.2 C527.2,819.5 524.7,824.8 523.4,826.3" stroke-width="2.30"/>
<path d="M534.0,818.7 L538.6,835.5" stroke-width="2.30"/>
<path d="M547.7,812.0 L547.7,832.4" stroke-width="2.30"/>
<path d="M526.5,837.0 L543.2,849.0 L543.2,855.2" stroke-width="2.40"/>
<path d="M503.7,840.0 C505.5,841.5 510.5,846.7 514.3,849.0 C518.1,851.3 524.5,852.9 526.5,853.7" stroke-width="3.00"/>
<path d="M675.6,440.0 L693.0,560.0 L699.0,622.0 L563.0,784.0" stroke-width="2.60"/>
<path d="M690.0,440.0 L706.0,560.0 L712.0,620.0 L709.0,628.0 L572.0,793.0" stroke-width="2.60"/>
<path d="M563.0,784.0 L572.0,793.0" stroke-width="2.40"/>
<path d="M675.6,440.0 L681.6,440.0 M675.6,445.0 L690.0,445.0 M677.6,455.2 L683.6,455.2 M679.5,470.3 L685.5,470.3 M679.5,475.3 L693.7,475.3 M681.5,485.5 L687.5,485.5 M683.4,500.7 L689.4,500.7 M683.4,505.7 L697.3,505.7 M685.4,515.8 L691.4,515.8 M687.3,531.0 L693.3,531.0 M687.3,536.0 L701.0,536.0 M689.2,546.2 L695.2,546.2 M691.2,561.3 L697.2,561.3 M691.2,566.3 L704.7,566.3 M693.1,576.5 L699.1,576.5 M695.1,591.7 L701.1,591.7 M695.1,596.7 L708.3,596.7 M697.0,606.8 L703.0,606.8 M695.1,627.8 L704.1,633.9 M685.3,639.4 L694.3,645.7 M675.5,650.9 L684.5,657.5 M665.8,662.5 L674.8,669.2 M656.0,674.1 L665.0,681.0 M646.2,685.6 L655.2,692.8 M636.4,697.2 L645.4,704.6 M626.6,708.8 L635.6,716.4 M616.8,720.4 L625.8,728.2 M607.0,731.9 L616.0,740.0 M597.2,743.5 L606.2,751.8 M587.5,755.1 L596.5,763.5 M577.7,766.6 L586.7,775.3 M567.9,778.2 L576.9,787.1" stroke-width="2.07"/>
<path d="M578.0,513.0 L657.0,505.3" stroke-width="2.40"/>
<path d="M578.0,529.6 L657.0,522.0" stroke-width="2.40"/>
<path d="M582,512.6 v10 M592,511.6 v6 M602,510.7 v10 M612,509.7 v6 M622,508.7 v10 M632,507.7 v6 M642,506.8 v10 M652,505.8 v6" stroke-width="2.30"/>
<path d="M713.4,494.7 L733.0,493.0 L733.0,510.0 L713.4,511.4 L713.4,494.7" stroke-width="2.40"/>
<path d="M722,494 v8 M728,494 v5" stroke-width="2.30"/>
<path d="M600.0,631.0 L655.0,631.0" stroke-width="2.60"/>
<path d="M601.0,648.6 L638.0,648.2" stroke-width="2.40"/>
<path d="M607,631 v8 M614,631 v5 M621,631 v10 M628,631 v5 M635,631 v8 M642,631 v5" stroke-width="2.30"/>
<path d="M702.4,631.0 L714.8,631.0" stroke-width="2.30"/>
<path d="M702.4,644.2 L714.8,644.2" stroke-width="2.30"/>
<path d="M597.5,759.2 L739.2,754.2" stroke-width="2.60"/>
<path d="M597.5,775.4 L739.2,768.4" stroke-width="2.60"/>
<path d="M604,759.0 v9 M609,773.0 v-4 M614,758.6 v5 M624,758.3 v9 M629,772.3 v-4 M634,757.9 v5 M644,757.6 v9 M649,771.6 v-4 M654,757.2 v5 M664,756.9 v9 M669,770.9 v-4 M674,756.5 v5 M684,756.1 v9 M689,770.1 v-4 M694,755.8 v5 M704,755.4 v9 M709,769.4 v-4 M714,755.1 v5 M724,754.7 v9 M729,768.7 v-4 M734,754.4 v5" stroke-width="2.30"/>
<path d="M496,219.5 H552 M539,210.5 L552,219.5 L539,228.5" stroke-width="2.30"/>
<path d="M495.3,521.1 H552.3 M539.3,512.1 L552.3,521.1 L539.3,530.1" stroke-width="2.30"/>
<path d="M496,636.6 H553 M540,627.6 L553,636.6 L540,645.6" stroke-width="2.30"/>
<path d="M490.8,768.3 H528 M515,759.3 L528,768.3 L515,777.3" stroke-width="2.60"/>
<path d="M494.6,882.8 H575 V798.2 M566,809.6 L575,798.2 L585,810.4" stroke-width="2.30"/>
<path d="M1199.0,216.5 C1200.3,215.6 1203.8,212.3 1207.0,211.0 C1210.2,209.7 1214.1,208.3 1218.5,208.4 C1222.9,208.5 1231.1,211.1 1233.6,211.7" stroke-width="2.40"/>
<path d="M1247.6,227.3 L1274.5,253.1" stroke-width="2.53"/>
<path d="M1280.5,265.0 C1282.7,268.1 1291.7,278.6 1293.7,283.3 C1295.7,288.0 1294.6,288.3 1292.7,293.4 C1290.8,298.5 1286.2,308.3 1282.5,313.7 C1278.8,319.1 1272.4,323.8 1270.4,325.8" stroke-width="2.53"/>
<path d="M1264.3,330.9 C1260.6,333.1 1248.4,341.5 1242.0,344.0 C1235.6,346.5 1231.2,346.3 1225.8,346.0 C1220.4,345.7 1212.3,342.7 1209.6,342.0" stroke-width="2.53"/>
<path d="M1185.2,229.4 C1183.2,233.7 1177.0,244.9 1173.0,255.0 C1169.0,265.1 1163.4,283.9 1161.5,289.7" stroke-width="2.80"/>
<path d="M1167.0,251.0 L1153.0,287.3" stroke-width="2.30"/>
<path d="M1157.0,256.0 L1167.0,249.0" stroke-width="1.84"/>
<path d="M1153.0,299.5 C1153.7,301.5 1153.3,306.2 1157.0,311.6 C1160.7,317.0 1169.1,327.8 1175.2,331.9 C1181.3,336.0 1188.0,335.1 1193.4,336.0 C1198.8,336.9 1205.2,336.8 1207.6,337.0" stroke-width="2.53"/>
<path d="M1205.6,253.0 C1204.5,256.7 1200.7,267.9 1199.0,275.0 C1197.3,282.1 1193.6,294.0 1195.4,295.4 C1197.2,296.8 1207.2,285.3 1209.6,283.3" stroke-width="2.60"/>
<path d="M1253.0,293.4 L1254.2,314.7" stroke-width="2.53"/>
<path d="M1177.2,338.0 C1177.7,338.8 1179.0,341.7 1180.0,343.0 C1181.0,344.3 1182.8,345.5 1183.3,346.0" stroke-width="2.07"/>
<path d="M1190.4,337.0 L1181.3,380.5" stroke-width="2.30"/>
<path d="M1248.0,344.0 L1256.2,381.5" stroke-width="2.30"/>
<path d="M1112.4,410.9 C1118.3,408.1 1136.5,399.1 1148.0,394.0 C1159.5,388.9 1175.8,382.8 1181.3,380.5" stroke-width="2.30"/>
<path d="M1256.2,381.5 C1261.8,383.8 1278.9,390.3 1290.0,395.0 C1301.1,399.7 1317.5,407.4 1323.0,409.9" stroke-width="2.30"/>
<path d="M1112.4,410.9 C1109.7,413.6 1099.6,419.9 1096.2,427.0 C1092.8,434.1 1093.4,441.2 1092.2,453.4 C1091.0,465.6 1089.8,485.6 1089.0,500.0 C1088.2,514.4 1087.8,521.6 1087.5,540.0 C1087.2,558.4 1086.6,584.5 1087.0,610.6 C1087.4,636.7 1088.2,671.8 1090.0,696.7 C1091.8,721.6 1095.7,742.8 1098.0,760.0 C1100.3,777.2 1101.7,785.9 1104.0,800.0 C1106.3,814.1 1109.4,828.6 1111.6,844.6 C1113.8,860.6 1114.1,883.7 1117.0,896.2 C1119.9,908.8 1123.3,910.6 1128.9,919.9 C1134.5,929.2 1146.8,946.8 1150.4,952.2" stroke-width="2.30"/>
<path d="M1112.4,410.9 C1114.8,420.2 1122.1,448.4 1127.0,467.0 C1131.9,485.6 1139.3,513.2 1141.8,522.4" stroke-width="2.30"/>
<path d="M1141.8,522.4 C1142.9,528.7 1146.1,547.8 1148.3,560.4 C1150.5,573.0 1153.5,586.7 1155.0,598.3 C1156.5,609.9 1157.2,620.5 1157.0,630.0 C1156.8,639.5 1155.7,647.5 1154.0,655.0 C1152.3,662.5 1149.0,669.1 1147.0,675.0 C1145.0,680.9 1140.5,682.0 1141.8,690.3 C1143.1,698.6 1149.3,712.2 1154.7,724.7 C1160.1,737.2 1166.5,755.9 1174.0,765.6 C1181.5,775.3 1193.1,779.8 1199.9,782.8 C1206.7,785.8 1212.5,783.4 1215.0,783.5" stroke-width="2.53"/>
<path d="M1229.0,783.5 C1232.4,783.4 1243.1,785.1 1249.4,782.8 C1255.7,780.5 1260.5,777.1 1266.6,769.9 C1272.7,762.7 1278.8,753.4 1286.0,739.7 C1293.2,726.1 1307.3,700.0 1309.6,688.0 C1311.9,676.0 1302.8,675.2 1300.0,668.0 C1297.2,660.8 1294.2,655.0 1293.0,645.0 C1291.8,635.0 1291.7,620.3 1292.6,607.8 C1293.5,595.3 1296.2,583.1 1298.3,570.0 C1300.4,556.9 1304.1,535.8 1305.3,528.9" stroke-width="2.53"/>
<path d="M1141.8,522.4 C1140.3,528.7 1135.4,549.3 1133.0,560.4 C1130.6,571.5 1128.7,578.0 1127.5,588.8 C1126.3,599.6 1125.3,613.1 1125.6,625.0 C1125.8,636.9 1126.3,649.1 1129.0,660.0 C1131.7,670.9 1141.6,678.5 1141.8,690.3 C1142.0,702.1 1132.5,717.7 1130.0,731.0 C1127.5,744.3 1127.2,760.2 1127.0,770.0 C1126.8,779.8 1126.9,775.8 1129.0,790.0 C1131.1,804.2 1136.0,832.6 1139.6,855.3 C1143.2,878.0 1147.3,906.6 1150.4,926.3 C1153.5,946.0 1157.3,958.6 1158.0,973.7 C1158.7,988.8 1155.2,1002.4 1154.7,1016.7 C1154.2,1031.0 1154.6,1045.9 1154.7,1059.8 C1154.8,1073.7 1154.5,1082.5 1155.5,1100.0 C1156.5,1117.5 1157.9,1144.5 1161.0,1164.6 C1164.1,1184.7 1169.7,1202.6 1174.0,1220.5 C1178.3,1238.4 1184.1,1256.2 1187.0,1272.0 C1189.9,1287.8 1191.0,1302.6 1191.3,1315.2 C1191.6,1327.8 1190.4,1338.5 1189.0,1347.5 C1187.6,1356.5 1184.3,1360.8 1182.7,1369.0 C1181.1,1377.2 1179.1,1390.5 1179.4,1397.0 C1179.8,1403.5 1181.4,1405.2 1184.8,1407.7 C1188.2,1410.2 1195.6,1411.6 1199.9,1412.0 C1204.2,1412.4 1208.8,1410.3 1210.6,1410.0" stroke-width="2.30"/>
<path d="M1323.0,409.9 C1325.4,411.4 1333.5,413.4 1337.2,419.0 C1340.9,424.6 1342.6,429.8 1345.3,443.3 C1348.0,456.8 1351.5,486.4 1353.4,500.0 C1355.4,513.5 1355.3,506.2 1357.0,524.6 C1358.7,543.0 1363.1,581.9 1363.4,610.6 C1363.8,639.3 1362.3,669.8 1359.1,696.7 C1355.9,723.6 1347.6,747.4 1344.0,772.0 C1340.4,796.6 1339.6,823.9 1337.6,844.6 C1335.6,865.3 1335.4,883.7 1332.2,896.2 C1329.0,908.8 1323.4,912.0 1318.2,919.9 C1313.0,927.8 1303.9,939.6 1301.0,943.5" stroke-width="2.30"/>
<path d="M1323.0,409.9 C1321.5,419.1 1317.0,445.2 1314.0,465.0 C1311.0,484.8 1306.8,518.2 1305.3,528.9" stroke-width="2.30"/>
<path d="M1305.3,528.9 C1306.7,535.8 1310.9,556.9 1313.5,570.0 C1316.1,583.1 1319.5,596.1 1321.0,607.8 C1322.5,619.5 1323.3,629.6 1322.5,640.0 C1321.7,650.4 1318.2,662.0 1316.0,670.0 C1313.8,678.0 1309.2,676.4 1309.6,688.0 C1310.0,699.6 1316.8,721.0 1318.2,739.7 C1319.6,758.4 1319.3,780.7 1318.2,800.0 C1317.1,819.3 1315.0,833.5 1311.8,855.3 C1308.6,877.1 1302.1,910.9 1298.9,930.6 C1295.7,950.3 1293.8,959.4 1292.4,973.7 C1291.0,988.1 1290.3,998.8 1290.3,1016.7 C1290.3,1034.6 1291.9,1064.1 1292.4,1081.3 C1292.9,1098.5 1294.2,1106.1 1293.5,1120.0 C1292.8,1133.9 1291.1,1147.8 1288.1,1164.6 C1285.0,1181.3 1279.2,1202.6 1275.2,1220.5 C1271.2,1238.4 1267.3,1254.4 1264.4,1272.0 C1261.5,1289.6 1258.3,1309.8 1258.0,1326.0 C1257.7,1342.2 1260.1,1358.2 1262.3,1369.0 C1264.5,1379.8 1270.1,1384.4 1271.0,1390.5 C1271.9,1396.6 1270.6,1402.0 1267.7,1405.6 C1264.8,1409.2 1259.3,1411.3 1253.7,1412.0 C1248.1,1412.7 1237.5,1410.3 1234.3,1410.0" stroke-width="2.30"/>
<path d="M1175,1002.7 H1188 M1252,1002.7 H1264" stroke-width="2.53"/>
<path d="M1230.0,956.5 C1231.1,962.9 1236.5,981.4 1236.5,995.0 C1236.5,1008.6 1231.1,1030.8 1230.0,1038.0" stroke-width="2.53"/>
<path d="M1195,1381 L1198,1360 L1201,1381 M1245,1362 V1373" stroke-width="2.07"/>
<path d="M1332.0,618.4 L1344.0,624.0" stroke-width="2.30"/>
<path d="M1098.7,1414.2 L1332.2,1414.2" stroke-width="3.00"/>
<path d="M1185.0,1412.0 L1210.0,1413.0" stroke-width="3.00"/>
<path d="M1234.0,1413.0 L1262.0,1412.0" stroke-width="3.00"/>
<path d="M1214.0,376.5 L1214.0,1414.0" stroke-width="2.80"/>
<path d="M1229.0,376.5 L1229.0,1414.0" stroke-width="2.40"/>
<path d="M1182.0,379.5 C1188.0,379.1 1205.8,376.8 1218.0,377.0 C1230.2,377.2 1249.2,379.9 1255.5,380.5" stroke-width="2.53"/>
<path d="M1214,378.4 H1229 M1214,382.7 h7 M1214,387.9 h9 M1214,392.4 h6 M1214,398.7 H1229 M1214,403.0 h7 M1214,408.2 h9 M1214,412.7 h6 M1214,419.0 H1229 M1214,423.3 h7 M1214,428.5 h9 M1214,433.0 h6 M1214,439.4 H1229 M1214,443.7 h7 M1214,448.9 h9 M1214,453.4 h6 M1214,459.7 H1229 M1214,464.0 h7 M1214,469.2 h9 M1214,473.7 h6 M1214,480.0 H1229 M1214,484.3 h7 M1214,489.5 h9 M1214,494.0 h6 M1214,500.3 H1229 M1214,504.6 h7 M1214,509.8 h9 M1214,514.3 h6 M1214,520.7 H1229 M1214,525.0 h7 M1214,530.2 h9 M1214,534.7 h6 M1214,541.0 H1229 M1214,545.3 h7 M1214,550.5 h9 M1214,555.0 h6 M1214,561.3 H1229 M1214,565.6 h7 M1214,570.8 h9 M1214,575.3 h6 M1214,581.7 H1229 M1214,586.0 h7 M1214,591.2 h9 M1214,595.7 h6 M1214,602.0 H1229 M1214,606.3 h7 M1214,611.5 h9 M1214,616.0 h6 M1214,622.3 H1229 M1214,626.6 h7 M1214,631.8 h9 M1214,636.3 h6 M1214,642.7 H1229 M1214,647.0 h7 M1214,652.2 h9 M1214,656.7 h6 M1214,663.0 H1229 M1214,667.3 h7 M1214,672.5 h9 M1214,677.0 h6 M1214,683.3 H1229 M1214,687.6 h7 M1214,692.8 h9 M1214,697.3 h6 M1214,703.6 H1229 M1214,707.9 h7 M1214,713.1 h9 M1214,717.6 h6 M1214,724.0 H1229 M1214,728.3 h7 M1214,733.5 h9 M1214,738.0 h6 M1214,744.3 H1229 M1214,748.6 h7 M1214,753.8 h9 M1214,758.3 h6 M1214,764.6 H1229 M1214,768.9 h7 M1214,774.1 h9 M1214,778.6 h6 M1214,785.0 H1229 M1214,789.3 h7 M1214,794.5 h9 M1214,799.0 h6 M1214,805.3 H1229 M1214,809.6 h7 M1214,814.8 h9 M1214,819.3 h6 M1214,825.6 H1229 M1214,829.9 h7 M1214,835.1 h9 M1214,839.6 h6 M1214,846.0 H1229 M1214,850.3 h7 M1214,855.5 h9 M1214,860.0 h6 M1214,866.3 H1229 M1214,870.6 h7 M1214,875.8 h9 M1214,880.3 h6 M1214,886.6 H1229 M1214,890.9 h7 M1214,896.1 h9 M1214,900.6 h6 M1214,906.9 H1229 M1214,911.2 h7 M1214,916.4 h9 M1214,920.9 h6 M1214,927.3 H1229 M1214,931.6 h7 M1214,936.8 h9 M1214,941.3 h6 M1214,947.6 H1229 M1214,951.9 h7 M1214,957.1 h9 M1214,961.6 h6 M1214,967.9 H1229 M1214,972.2 h7 M1214,977.4 h9 M1214,981.9 h6 M1214,988.3 H1229 M1214,992.6 h7 M1214,997.8 h9 M1214,1002.3 h6 M1214,1008.6 H1229 M1214,1012.9 h7 M1214,1018.1 h9 M1214,1022.6 h6 M1214,1028.9 H1229 M1214,1033.2 h7 M1214,1038.4 h9 M1214,1042.9 h6 M1214,1049.3 H1229 M1214,1053.6 h7 M1214,1058.8 h9 M1214,1063.3 h6 M1214,1069.6 H1229 M1214,1073.9 h7 M1214,1079.1 h9 M1214,1083.6 h6 M1214,1089.9 H1229 M1214,1094.2 h7 M1214,1099.4 h9 M1214,1103.9 h6 M1214,1110.2 H1229 M1214,1114.5 h7 M1214,1119.8 h9 M1214,1124.2 h6 M1214,1130.6 H1229 M1214,1134.9 h7 M1214,1140.1 h9 M1214,1144.6 h6 M1214,1150.9 H1229 M1214,1155.2 h7 M1214,1160.4 h9 M1214,1164.9 h6 M1214,1171.2 H1229 M1214,1175.5 h7 M1214,1180.7 h9 M1214,1185.2 h6 M1214,1191.6 H1229 M1214,1195.9 h7 M1214,1201.1 h9 M1214,1205.6 h6 M1214,1211.9 H1229 M1214,1216.2 h7 M1214,1221.4 h9 M1214,1225.9 h6 M1214,1232.2 H1229 M1214,1236.5 h7 M1214,1241.7 h9 M1214,1246.2 h6 M1214,1252.6 H1229 M1214,1256.9 h7 M1214,1262.1 h9 M1214,1266.6 h6 M1214,1272.9 H1229 M1214,1277.2 h7 M1214,1282.4 h9 M1214,1286.9 h6 M1214,1293.2 H1229 M1214,1297.5 h7 M1214,1302.7 h9 M1214,1307.2 h6 M1214,1313.5 H1229 M1214,1317.8 h7 M1214,1323.0 h9 M1214,1327.5 h6 M1214,1333.9 H1229 M1214,1338.2 h7 M1214,1343.4 h9 M1214,1347.9 h6 M1214,1354.2 H1229 M1214,1358.5 h7 M1214,1363.7 h9 M1214,1368.2 h6 M1214,1374.5 H1229 M1214,1378.8 h7 M1214,1384.0 h9 M1214,1388.5 h6 M1214,1394.9 H1229 M1214,1399.2 h7 M1214,1404.4 h9 M1214,1408.9 h6" stroke-width="2.53"/>
<path d="M1131.0,478.3 L1257.0,478.3 L1257.0,505.2 L1138.5,505.2" stroke-width="2.60"/>
<path d="M1158.0,611.7 L1292.4,611.7" stroke-width="2.40"/>
<path d="M1158,611.7 V625.7 M1292.4,611.7 V625.7" stroke-width="2.40"/>
<path d="M1164,611.7 v6 M1175,611.7 v9 M1186,611.7 v6 M1197,611.7 v9 M1208,611.7 v6 M1241,611.7 v9 M1252,611.7 v6 M1263,611.7 v9 M1274,611.7 v6 M1285,611.7 v9" stroke-width="2.53"/>
<path d="M1097.7,478.3 H1375.3" stroke-width="2.4" stroke-dasharray="7.5 5.2" stroke-linecap="butt"/>
<path d="M1099.8,626 H1385" stroke-width="2.6" stroke-dasharray="8.5 4" stroke-linecap="butt"/>
<path d="M1107.3,785 H1372" stroke-width="2.6" stroke-dasharray="8 4.7" stroke-linecap="butt"/>
<path d="M1112.7,1187.8 H1343" stroke-width="3.0" stroke-dasharray="8 5.3" stroke-linecap="butt"/>
<path d="M1025.8,478.3 H1080.8 M1067.8,469.3 L1080.8,478.3 L1067.8,487.3" stroke-width="2.30"/>
<path d="M1030.6,624.5 H1078 M1065,615.5 L1078,624.5 L1065,633.5" stroke-width="2.30"/>
<path d="M1030,784.4 H1085 M1072,775.4 L1085,784.4 L1072,793.4" stroke-width="2.30"/>
<path d="M1030,1187.6 H1085 M1072,1178.6 L1085,1187.6 L1072,1196.6" stroke-width="2.80"/>
</svg>
</body></html>
